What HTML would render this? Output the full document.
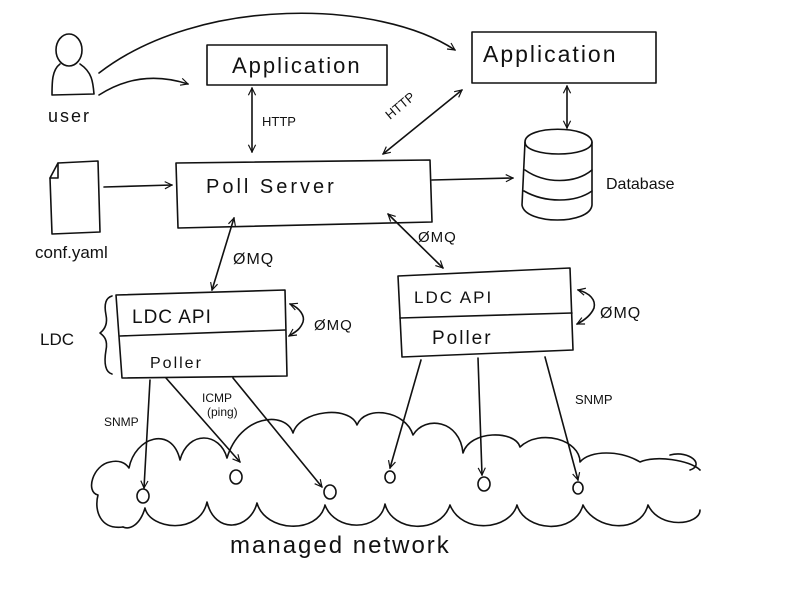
<!DOCTYPE html>
<html><head><meta charset="utf-8"><style>
html,body{margin:0;padding:0;background:#fff;}
svg{display:block;}
text{font-family:"Liberation Sans",sans-serif;fill:#111;}
</style></head><body>
<svg width="800" height="600" viewBox="0 0 800 600" xmlns="http://www.w3.org/2000/svg">
<defs>
<marker id="a" viewBox="0 0 10 10" refX="9" refY="5" markerWidth="9" markerHeight="9" orient="auto-start-reverse" markerUnits="userSpaceOnUse">
<path d="M1,1 L9,5 L1,9" fill="none" stroke="#111" stroke-width="1.3"/>
</marker>
</defs>
<g fill="none" stroke="#111" stroke-width="1.6" stroke-linecap="round" stroke-linejoin="round">
<!-- user -->
<ellipse cx="69" cy="50" rx="13" ry="16"/>
<path d="M60,64 C52,70 52,82 52,95 L94,94 C93,82 92,72 80,64"/>
<path d="M99,95 C130,75 160,75 188,84" marker-end="url(#a)"/>
<path d="M99,73 C200,-5 380,0 455,50" marker-end="url(#a)"/>
<rect x="207" y="45" width="180" height="40"/>
<rect x="472" y="32" width="184" height="51"/>
<path d="M176,163 L430,160 L432,222 L178,228 Z"/>
<path d="M252,88 L252,152" marker-start="url(#a)" marker-end="url(#a)"/>
<path d="M383,154 L462,90" marker-start="url(#a)" marker-end="url(#a)"/>
<path d="M567,86 L567,128" marker-start="url(#a)" marker-end="url(#a)"/>
<path d="M525,142 C525,125 590,125 592,142 C592,158 525,158 525,142"/>
<path d="M525,142 L522,205 C525,225 590,225 592,205 L592,142"/>
<path d="M525,170 C545,184 575,184 592,170"/>
<path d="M524,191 C545,203 575,203 592,191"/>
<path d="M432,180 L513,178" marker-end="url(#a)"/>
<path d="M58,163 L98,161 L100,232 L52,234 L50,178"/>
<path d="M58,163 L50,178 L58,178 Z"/>
<path d="M104,187 L172,185" marker-end="url(#a)"/>
<path d="M234,218 L212,290" marker-start="url(#a)" marker-end="url(#a)"/>
<path d="M388,214 L443,268" marker-start="url(#a)" marker-end="url(#a)"/>
<path d="M116,295 L285,290 L287,376 L122,378 Z"/>
<path d="M120,336 L285,330"/>
<path d="M112,296 C105,298 104,305 106,315 C108,325 104,330 100,333 C104,336 108,340 106,350 C104,362 105,372 112,374"/>
<path d="M290,304 C300,308 305,316 303,322 C300,330 295,332 289,336" marker-start="url(#a)" marker-end="url(#a)"/>
<path d="M398,276 L570,268 L573,350 L402,357 Z"/>
<path d="M400,318 L572,313"/>
<path d="M578,290 C590,293 596,300 594,308 C591,315 585,320 577,324" marker-start="url(#a)" marker-end="url(#a)"/>
<path d="M150,380 L144,488" marker-end="url(#a)"/>
<path d="M166,378 L240,462" marker-end="url(#a)"/>
<path d="M233,378 L322,487" marker-end="url(#a)"/>
<path d="M421,360 L390,468" marker-end="url(#a)"/>
<path d="M478,358 L482,475" marker-end="url(#a)"/>
<path d="M545,357 L578,480" marker-end="url(#a)"/>
<path d="M123,527 C100,530 94,510 98,495 C85,492 93,465 110,462 C118,460 125,462 129,468 C135,437 172,425 180,460 C188,430 220,432 227,458 C240,415 285,410 293,433 C300,410 350,405 357,425 C365,405 405,410 413,435 C425,415 460,420 463,453 C470,430 515,430 520,447 C540,428 580,440 580,462 C590,450 620,450 640,462 C655,455 690,460 700,470"/>
<path d="M123,527 C130,530 140,525 145,508 C150,530 200,535 207,502 C215,535 250,530 257,503 C265,532 318,535 325,505 C335,532 380,532 385,504 C392,532 440,535 450,505 C462,535 510,530 517,505 C525,532 575,535 583,505 C595,530 640,535 648,505 C660,530 700,525 700,510"/>
<path d="M670,455 C690,450 705,465 690,470"/>
<ellipse cx="143" cy="496" rx="6" ry="7"/>
<ellipse cx="236" cy="477" rx="6" ry="7"/>
<ellipse cx="330" cy="492" rx="6" ry="7"/>
<ellipse cx="390" cy="477" rx="5" ry="6"/>
<ellipse cx="484" cy="484" rx="6" ry="7"/>
<ellipse cx="578" cy="488" rx="5" ry="6"/>
</g>
<text x="48" y="122" font-size="18" letter-spacing="2">user</text>
<text x="232" y="73" font-size="22" letter-spacing="2">Application</text>
<text x="483" y="62" font-size="23" letter-spacing="2">Application</text>
<text x="262" y="126" font-size="13">HTTP</text>
<text x="390" y="120" font-size="13" transform="rotate(-40 390 120)">HTTP</text>
<text x="206" y="193" font-size="20" letter-spacing="3">Poll  Server</text>
<text x="606" y="189" font-size="16">Database</text>
<text x="35" y="258" font-size="17">conf.yaml</text>
<text x="233" y="264" font-size="16" letter-spacing="1">ØMQ</text>
<text x="418" y="242" font-size="15" letter-spacing="1">ØMQ</text>
<text x="314" y="330" font-size="15" letter-spacing="1">ØMQ</text>
<text x="600" y="318" font-size="16" letter-spacing="1">ØMQ</text>
<text x="40" y="345" font-size="17">LDC</text>
<text x="132" y="323" font-size="19" letter-spacing="1">LDC API</text>
<text x="150" y="368" font-size="16" letter-spacing="2">Poller</text>
<text x="414" y="303" font-size="17" letter-spacing="2">LDC  API</text>
<text x="432" y="344" font-size="19" letter-spacing="2">Poller</text>
<text x="104" y="426" font-size="12">SNMP</text>
<text x="202" y="402" font-size="12">ICMP</text>
<text x="207" y="416" font-size="12">(ping)</text>
<text x="575" y="404" font-size="13">SNMP</text>
<text x="230" y="553" font-size="24" letter-spacing="2">managed network</text>
</svg>
</body></html>
